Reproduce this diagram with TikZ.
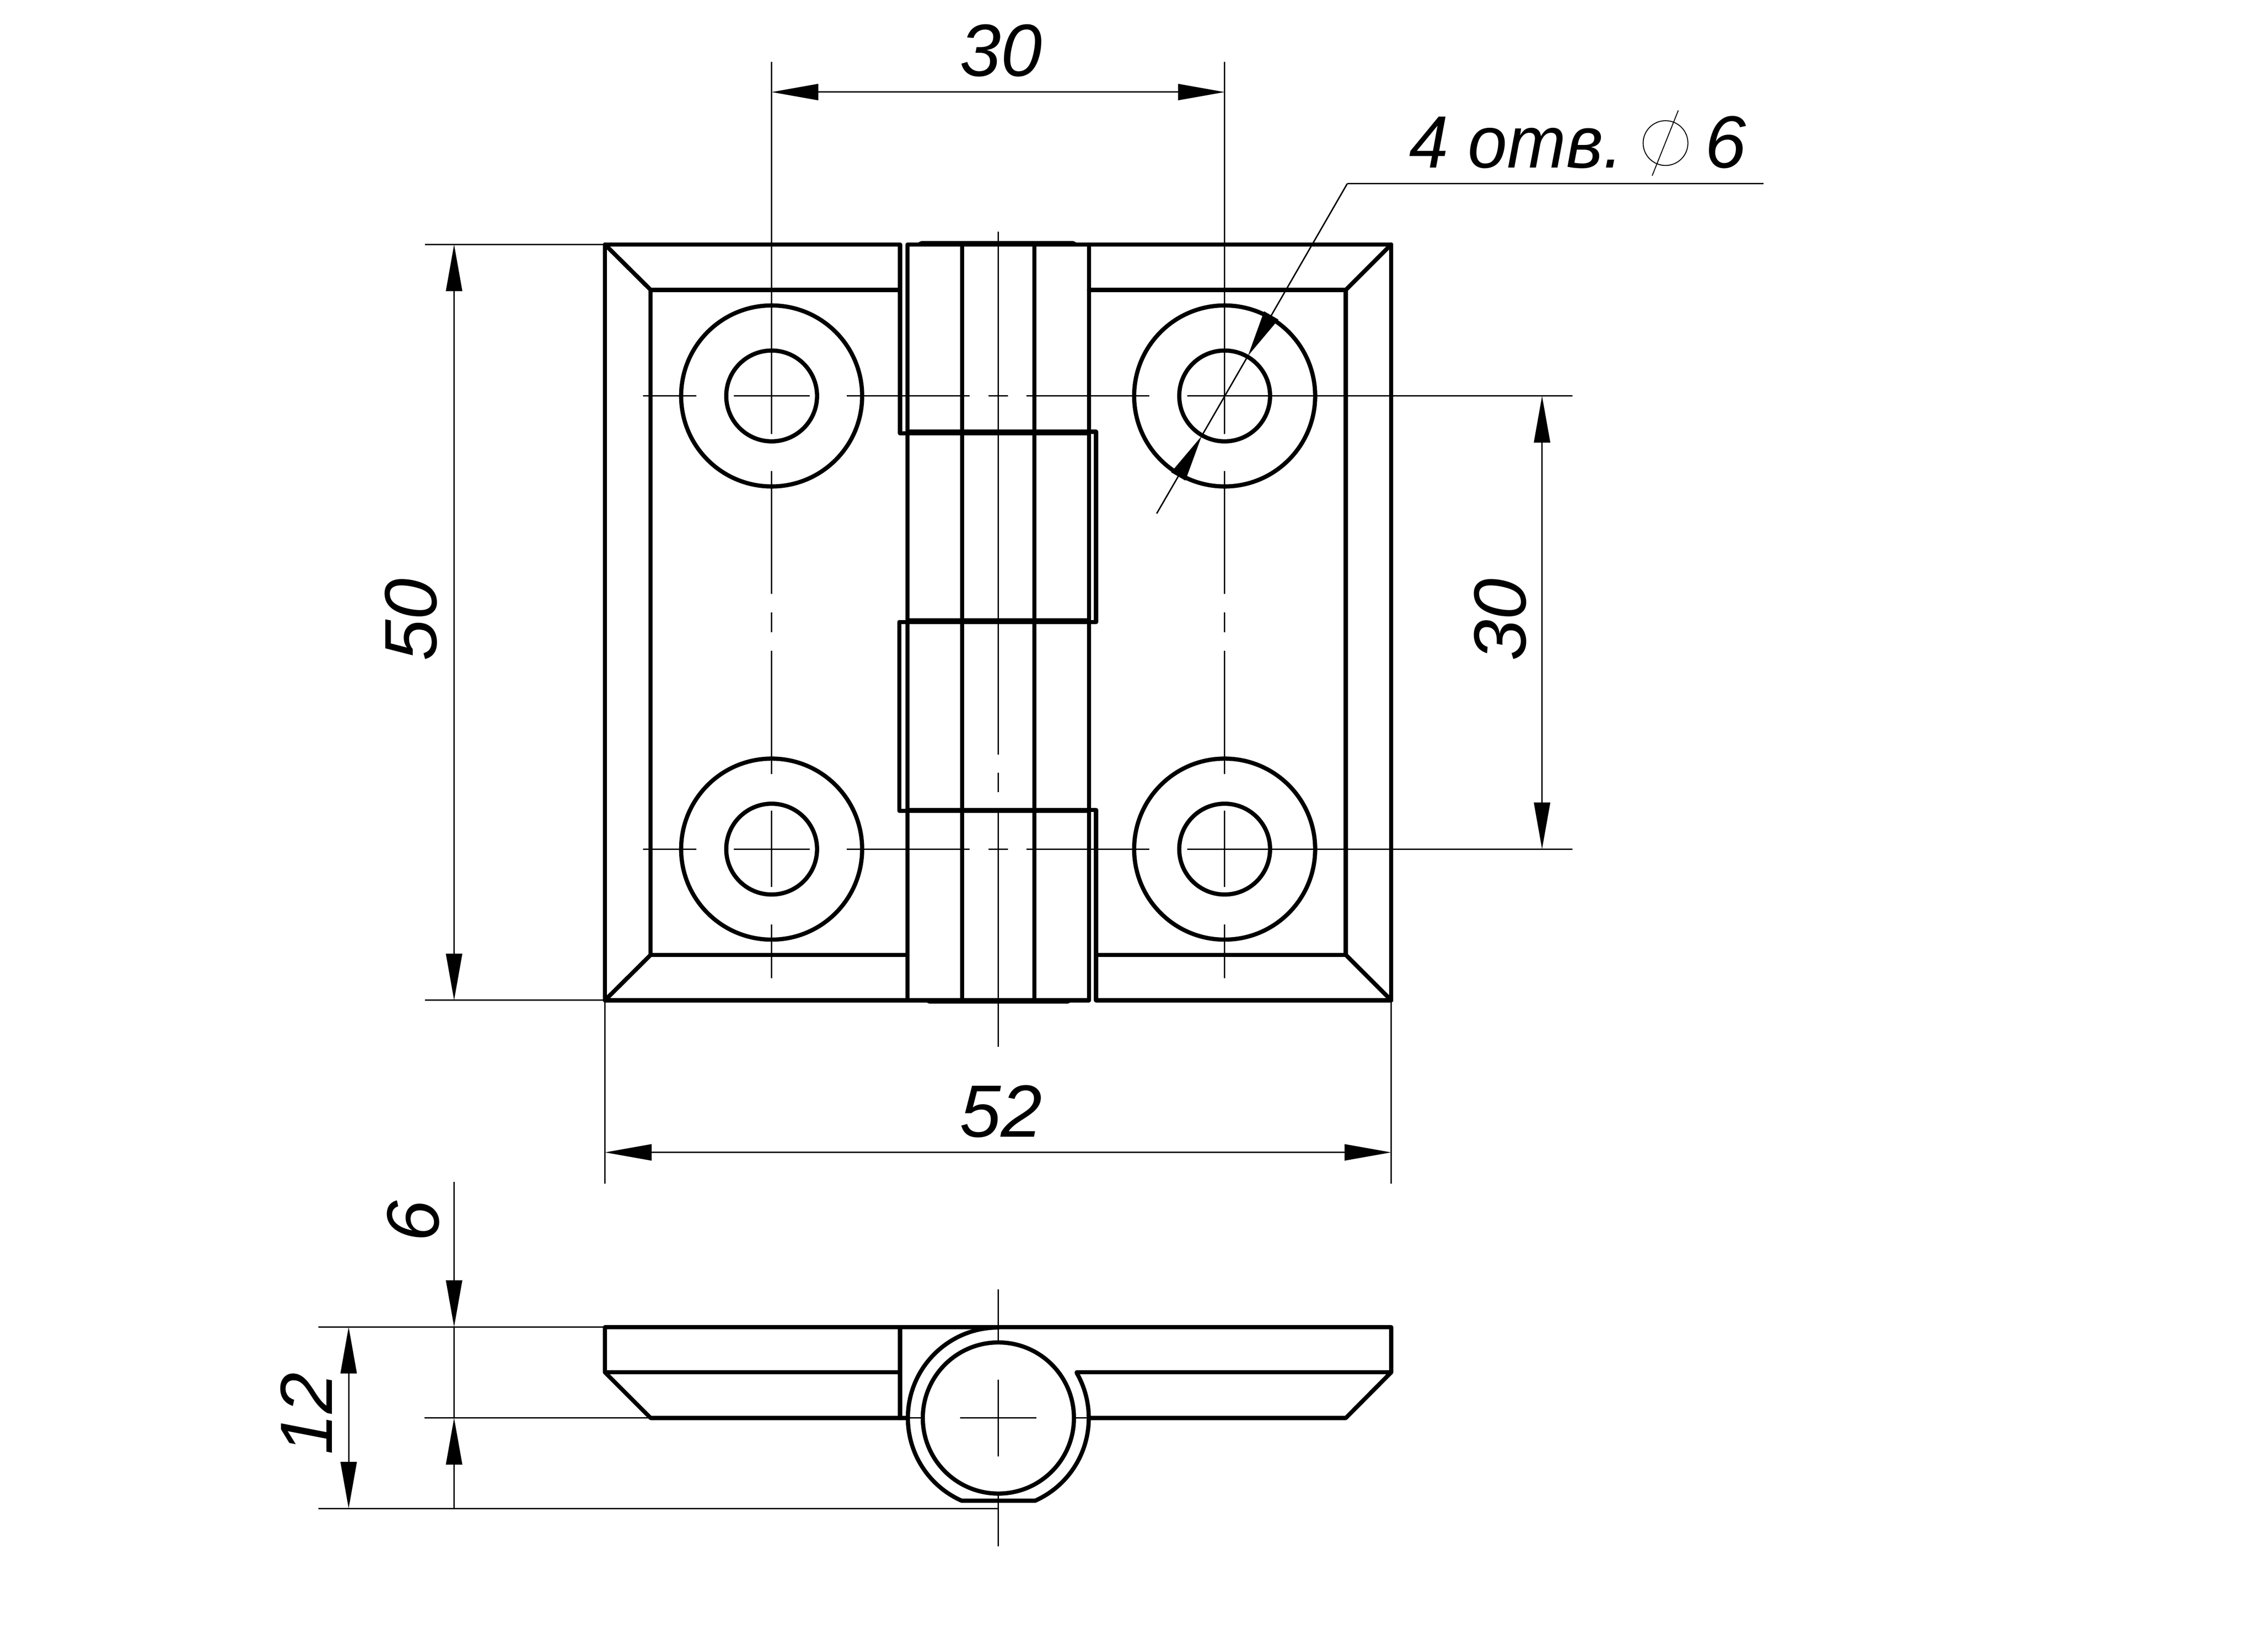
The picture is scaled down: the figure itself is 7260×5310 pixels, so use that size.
\documentclass[tikz,border=0pt]{standalone}
\usepackage{fontspec}
\setmainfont{Liberation Sans}
\usetikzlibrary{arrows.meta}
\tikzset{
  contour/.style={line width=1.35pt,line cap=round,line join=round},
  axis/.style={line width=0.45pt},
  hair/.style={line width=0.3pt},
  dimline/.style={line width=0.45pt},
  headB/.style={-{Triangle[length=15pt,width=5.2pt,sep=0pt]}},
  headBoth/.style={{Triangle[length=15pt,width=5.2pt,sep=0pt]}-{Triangle[length=15pt,width=5.2pt,sep=0pt]}},
  dimtext/.style={inner sep=0pt,anchor=base,font=\fontsize{23.8}{28}\selectfont\itshape},
}
\begin{document}
\begin{tikzpicture}[x=0.1pt,y=-0.1pt]
\useasboundingbox (0,0) rectangle (7260,5310);

% ---- main view: contours ----
\draw[contour] (2894,1393)--(2894,786)--(1945,786)--(1945,3216)--(3501,3216)--(3501,786);
\draw[contour] (2918,3216)--(2918,786)--(4473,786)--(4473,3216)--(3524,3216)--(3524,2604)--(2918,2604);
\draw[contour] (2892,2000)--(2892,2607)--(3501,2607);
\draw[contour] (2894,1393)--(3501,1393);
\draw[contour] (2918,1388)--(3524,1388)--(3524,2000)--(2892,2000);
\draw[contour] (2918,1995)--(3501,1995);
\draw[contour] (3093,786)--(3093,3216);
\draw[contour] (3326,786)--(3326,3216);
\draw[contour] (2955,786)--(2964,781.5)--(3449,781.5)--(3458,786);
\draw[contour] (2980,3216)--(2989,3220)--(3432,3220)--(3441,3216);
% inner panel
\draw[contour] (2894,932)--(2092,932)--(2092,3070)--(2918,3070);
\draw[contour] (3501,932)--(4327,932)--(4327,3070)--(3524,3070);
\draw[contour] (1945,786)--(2092,932);
\draw[contour] (4473,786)--(4327,932);
\draw[contour] (1945,3216)--(2092,3070);
\draw[contour] (4473,3216)--(4327,3070);
% holes
\foreach \hx in {2481,3937.5}{
  \foreach \hy in {1273,2730}{
    \draw[contour] (\hx,\hy) circle[radius=29.1pt];
    \draw[contour] (\hx,\hy) circle[radius=14.6pt];
  }
  \foreach \a/\b in {199/1395,1515/1909,1969/2033,2092/2488,2607/2852,2972/3145}
    \draw[axis] (\hx,\a)--(\hx,\b);
}
\foreach \hy in {1273,2730}{
  \foreach \a/\b in {2067/2239,2359/2603,2723/3118,3178/3241,3300/3696,3817/5056}
    \draw[axis] (\a,\hy)--(\b,\hy);
}
\foreach \a/\b in {745/2426,2484/2547,2608/3365}
  \draw[axis] (3210,\a)--(3210,\b);

% ---- side view ----
\draw[contour] (2919,4559)--(2092,4559)--(1945,4412)--(1945,4267)--(4473,4267)--(4473,4412)--(4327,4559)--(3501,4559);
\draw[contour] (1945,4412)--(2894,4412);
\draw[contour] (2894,4267)--(2894,4559);
\draw[contour] (3462,4412)--(4473,4412);
\draw[contour] (3210,4559) circle[radius=24.3pt];
\draw[contour] (3210,4268) arc[start angle=90,end angle=246,radius=29.1pt]
  -- (3328,4825) arc[start angle=-66,end angle=30,radius=29.1pt];
\draw[axis] (3210,4146)--(3210,4316);
\draw[axis] (3210,4436)--(3210,4682);
\draw[axis] (3210,4802)--(3210,4972);
\draw[axis] (3087,4559)--(3332,4559);
\draw[axis] (2919,4559)--(2969,4559);
\draw[axis] (3451,4559)--(3501,4559);

% ---- extension lines ----
\draw[dimline] (1366,786)--(1945,786);
\draw[dimline] (1366,3216)--(1945,3216);
\draw[dimline] (1945,3216)--(1945,3805);
\draw[dimline] (4473,3216)--(4473,3805);
\draw[dimline] (1023,4266)--(1945,4266);
\draw[dimline] (1365,4559)--(2092,4559);
\draw[dimline] (1023,4850)--(3210,4850);

% ---- dimension lines ----
\draw[dimline,headBoth] (2481,296)--(3937.5,296);
\draw[dimline,headBoth] (1460,786)--(1460,3216);
\draw[dimline,headBoth] (4958,1273)--(4958,2730);
\draw[dimline,headBoth] (1945,3705)--(4473,3705);
\draw[dimline,headBoth] (1121,4266)--(1121,4850);
\draw[dimline,headB] (1460,3800)--(1460,4266);
\draw[dimline] (1460,4266)--(1460,4559);
\draw[dimline,headB] (1460,4850)--(1460,4559);

% ---- leader ----
\draw[dimline,headB] (4332,590)--(4012.5,1144);
\draw[dimline] (4012.5,1144)--(3863.5,1402);
\draw[dimline,headB] (3719,1651)--(3863.5,1402);
\draw[dimline] (4332,590)--(5670,590);

% ---- texts ----
\node[dimtext] (t30a) at (3218,244) {30};
\node[dimtext] (t52) at (3218,3655) {52};
\node[dimtext,rotate=90] (t50) at (1404,1993) {50};
\node[dimtext,rotate=90] (t30b) at (4906,1993) {30};
\node[dimtext,rotate=90] (t6) at (1410,3926) {6};
\node[dimtext,rotate=90] (t12) at (1068,4545) {12};
\node[dimtext,anchor=base west,xscale=0.955] (thole) at (4529,539) {4 отв.};
\draw[hair] (5355,460) circle[radius=7.2pt];
\draw[hair] (5396,355)--(5312,565);
\node[dimtext,anchor=base west] (tsix) at (5480,539) {6};
\end{tikzpicture}
\end{document}
